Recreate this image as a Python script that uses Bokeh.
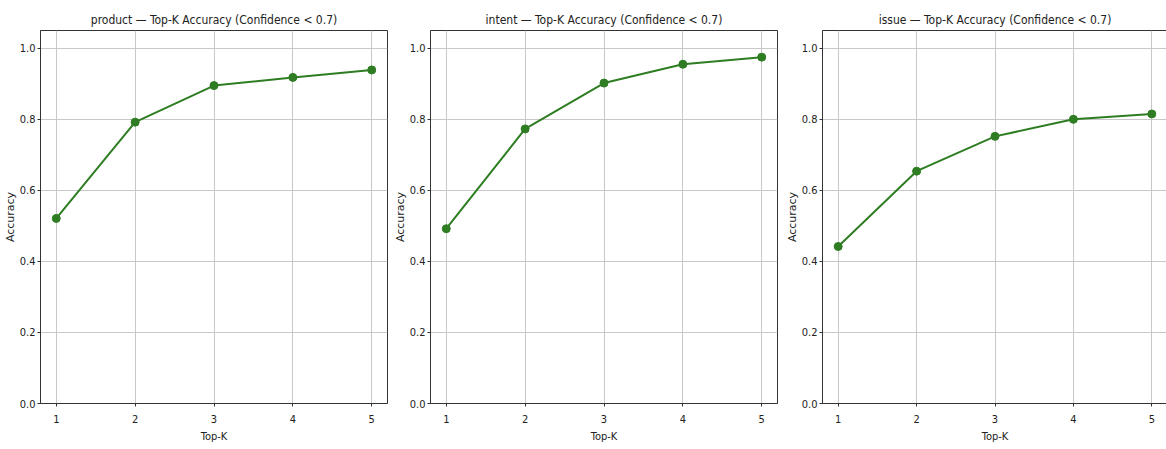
from bokeh.plotting import figure
from bokeh.layouts import row
from bokeh.models import Range1d, FixedTicker
from bokeh.embed import file_html
from bokeh.resources import INLINE

top_k = [1, 2, 3, 4, 5]
product_acc = [0.521, 0.792, 0.895, 0.918, 0.939]
intent_acc = [0.492, 0.773, 0.902, 0.955, 0.975]
issue_acc = [0.442, 0.654, 0.752, 0.800, 0.815]
tasks = ["product", "intent", "issue"]
series = [product_acc, intent_acc, issue_acc]
y_ticks = [0.0, 0.2, 0.4, 0.6, 0.8, 1.0]

FONT = "DejaVu Sans Condensed, Roboto"
GREEN = "#2e7d22"
# (frame width, left border, right border)
layout_specs = [
    (347, 38, 3),
    (347, 38, 5),
    (345, 38, 0),
]

figs = []
for name, vals, (fw, bl, br) in zip(tasks, series, layout_specs):
    p = figure(frame_width=fw, frame_height=373, output_backend="svg", toolbar_location=None,
               x_range=Range1d(0.8, 5.2), y_range=Range1d(0.0, 1.05),
               min_border_left=bl, min_border_right=br,
               min_border_top=30, min_border_bottom=42,
               title=f"{name} \u2014 Top-K Accuracy (Confidence < 0.7)")
    p.title.align = "center"
    p.title.text_font = FONT
    p.title.text_font_size = "12px"
    p.title.text_font_style = "normal"
    p.title.text_color = "#222222"
    p.title.standoff = 8

    p.line(top_k, vals, line_color=GREEN, line_width=2)
    p.scatter(top_k, vals, size=8, fill_color=GREEN, line_color=GREEN)

    p.xaxis.ticker = FixedTicker(ticks=top_k)
    p.yaxis.ticker = FixedTicker(ticks=y_ticks)
    p.yaxis.major_label_overrides = {t: f"{t:.1f}" for t in y_ticks}
    p.xaxis.axis_label = "Top-K"
    p.yaxis.axis_label = "Accuracy"
    for ax in (p.xaxis, p.yaxis):
        ax.axis_label_text_font = FONT
        ax.axis_label_text_font_size = "11px"
        ax.axis_label_text_font_style = "normal"
        ax.axis_label_text_color = "#222222"
        ax.major_label_text_font = FONT
        ax.major_label_text_font_size = "11px"
        ax.major_label_text_color = "#222222"
        ax.minor_tick_line_color = None
        ax.major_tick_out = 3
        ax.major_tick_in = 0
        ax.major_label_standoff = 2
        ax.axis_label_standoff = 0
        ax.axis_line_color = "#333333"
        ax.major_tick_line_color = "#333333"
    p.xaxis.major_label_standoff = 8
    p.xaxis.axis_label_standoff = 4
    p.yaxis.axis_label_text_font = "DejaVu Sans"
    p.yaxis.axis_label_text_font_size = "11px"

    p.xgrid.grid_line_color = "#c8c8c8"
    p.ygrid.grid_line_color = "#c8c8c8"
    p.xgrid.grid_line_width = 1
    p.ygrid.grid_line_width = 1
    p.outline_line_color = "#333333"
    p.outline_line_width = 1
    p.background_fill_color = "white"
    p.border_fill_color = "white"
    figs.append(p)

layout = row(*figs)
open("out.html", "w").write(file_html(layout, INLINE))
